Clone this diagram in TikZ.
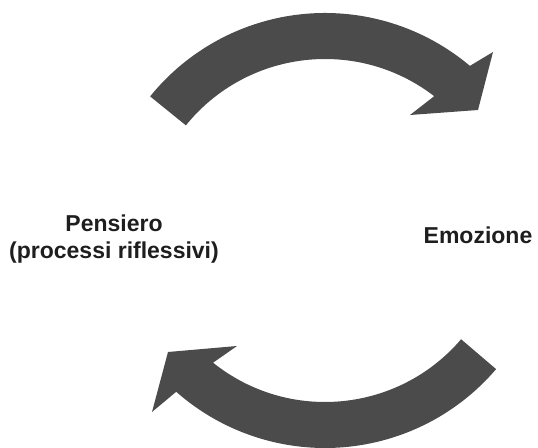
\documentclass[tikz,border=0pt]{standalone}
\usepackage{fontspec}
\setmainfont{Liberation Sans}
\usetikzlibrary{calc}
\definecolor{arrowgray}{RGB}{75,75,75}
\definecolor{labelink}{RGB}{30,30,30}
\begin{document}
\begin{tikzpicture}[x=1pt,y=1pt,
  cyclearrow/.style={fill=arrowgray},
  caption/.style={font=\fontsize{23}{27}\selectfont\bfseries, inner sep=0pt,
                  align=center, text=labelink}]
\useasboundingbox (0,0) rectangle (538,447);

% centres of the two circular bands
\coordinate (ctop) at (325,209);
\coordinate (cbot) at (325,224);

% upper curved arrow: from the thought side over the top towards the emotion side
\fill[cyclearrow]
  ($(ctop)+(141:225)$) arc[start angle=141, end angle=49.9, radius=225pt]
  -- (493,395) -- (478,337) -- (410,332)
  -- ($(ctop)+(52.4:179)$) arc[start angle=52.4, end angle=141, radius=179pt]
  -- cycle;

% lower curved arrow: from the emotion side under the bottom back to the thought side
\fill[cyclearrow]
  ($(cbot)+(-40.5:225)$) arc[start angle=-40.5, end angle=-131.4, radius=225pt]
  -- (152,35) -- (168,95) -- (237,101)
  -- ($(cbot)+(-128.7:179)$) arc[start angle=-128.7, end angle=-40.5, radius=179pt]
  -- cycle;

% labels
\node[caption, anchor=north] (pensiero) at (114,232.5) {Pensiero\\(processi riflessivi)};
\node[caption, anchor=base] (emozione) at (478,203.7) {Emozione};
\end{tikzpicture}
\end{document}
